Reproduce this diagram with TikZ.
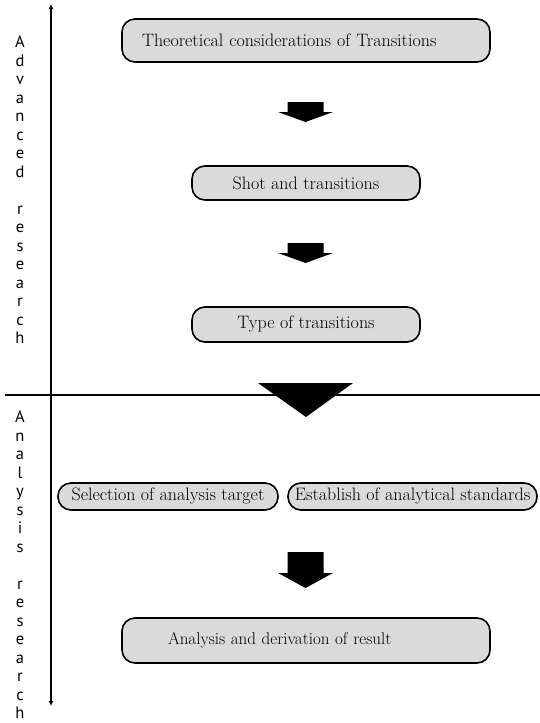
\documentclass[tikz,border=0pt]{standalone}
\usepackage{fontspec}
\newfontfamily\sidefont{PT Sans}
\usepackage{xcolor}
\usetikzlibrary{arrows.meta,calc,positioning}
\definecolor{boxgray}{RGB}{218,218,218}

\begin{document}
\begin{tikzpicture}[x=1pt,y=-1pt,
  stage/.style={rectangle, draw, fill=boxgray, line width=1.6pt, rounded corners=13pt, inner sep=0pt, font=\fontsize{18}{20}\selectfont},
  side/.style={align=center, font=\sidefont\fontsize{16.5}{18.5}\selectfont},
  block/.style={fill=black}]
\useasboundingbox (0,0) rectangle (540,723);

\coordinate (axtop) at (51,4);
\coordinate (axbot) at (51,706);
\coordinate (cutl) at (5,395);
\coordinate (cutr) at (540,395);
\draw[line width=2pt, {Latex[length=5pt,width=5pt]}-{Latex[length=5pt,width=5pt]}] (axtop) -- (axbot);
\draw[line width=2pt] (cutl) -- (cutr);

\node[side] (adv) at (20,190) {A\\d\\v\\a\\n\\c\\e\\d\\\mbox{}\\r\\e\\s\\e\\a\\r\\c\\h};
\node[side] (ana) at (20,565) {A\\n\\a\\l\\y\\s\\i\\s\\\mbox{}\\r\\e\\s\\e\\a\\r\\c\\h};

\node[stage, minimum width=368pt, minimum height=43pt, text width=328pt, align=left] (theory) at (306,40.5) {Theoretical considerations of Transitions};
\node[stage, minimum width=228pt, minimum height=34pt] (shot) at (306,183) {Shot and transitions};
\node[stage, minimum width=228pt, minimum height=35pt] (type) at (306,324.5) {Type of transitions};
\node[stage, minimum width=220pt, minimum height=27pt] (target) at (168,496.5) {Selection of analysis target};
\node[stage, minimum width=249pt, minimum height=27pt] (standard) at (412.5,496.5) {Establish of analytical standards};
\node[stage, minimum width=368pt, minimum height=45pt, text width=276pt, align=left, font=\fontsize{17}{19}\selectfont] (result) at (306,640.5) {Analysis and derivation of result};

\foreach \y/\s/\h in {112/10/10, 253/10/10, 573/21/15}
  \fill[block] (305.5,\y) ++(-18,-\s) -- ++(36,0) -- ++(0,\s) -- ++(9.5,0) -- ++(-27.5,\h) -- ++(-27.5,-\h) -- ++(9.5,0) -- cycle;

\fill[block] (258,383) -- (353,383) -- (306,417) -- cycle;
\end{tikzpicture}
\end{document}
